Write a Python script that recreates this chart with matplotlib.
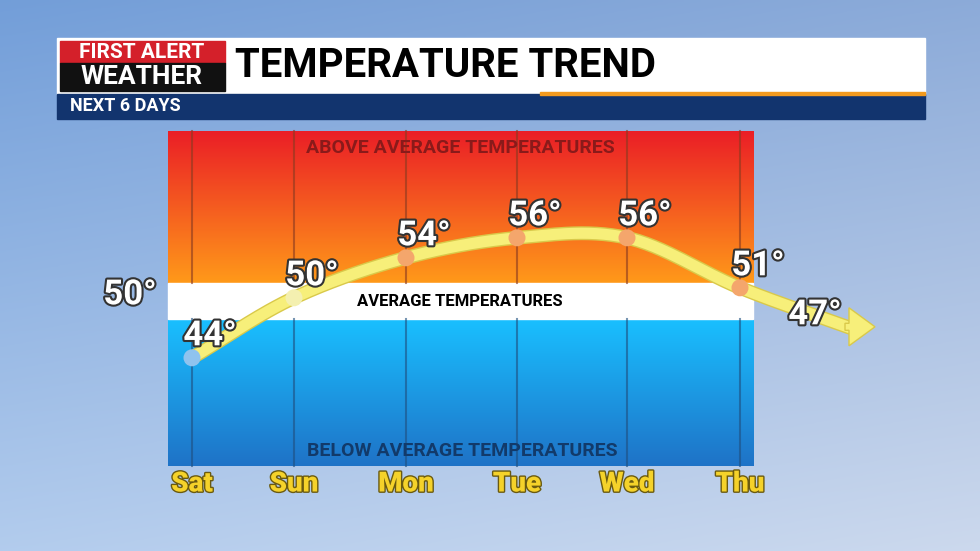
import numpy as np
import matplotlib.pyplot as plt
import matplotlib.patheffects as pe
from matplotlib.patches import Rectangle, FancyArrow

days = ['Sat', 'Sun', 'Mon', 'Tue', 'Wed', 'Thu']
temps = [44, 50, 54, 56, 56, 51]
next_temp = 47
avg_temp = 50
dot_colors = ['#8fc3ee', '#f4f0b0', '#f4a66c', '#f4a66c', '#f4a66c', '#f4a66c']

W, H = 980, 551
day_x = [192, 294, 406, 517, 627, 740]
next_x = 850
px_per_deg = 10.0
ref_t, ref_y = 50.33, 294.5

plt.rcParams['font.family'] = ['Roboto', 'DejaVu Sans']
fig = plt.figure(figsize=(9.8, 5.51), dpi=100)
ax = fig.add_axes([0, 0, 1, 1])
ax.set_xlim(0, W)
ax.set_ylim(H, 0)
ax.axis('off')

# sky background
yy = np.linspace(0, 1, 200)[:, None]
xx = np.linspace(0, 1, 300)[None, :]
sky = np.zeros((200, 300, 3))
sky[..., 0] = 0.45 + 0.25 * yy + 0.1 * xx
sky[..., 1] = 0.62 + 0.18 * yy + 0.05 * xx
sky[..., 2] = 0.85 + 0.08 * yy
ax.imshow(np.clip(sky, 0, 1), extent=[0, W, H, 0], aspect='auto', zorder=0)

# header
ax.add_patch(Rectangle((57, 38), 868, 56, color='white', zorder=2))
ax.add_patch(Rectangle((60, 41), 165, 22, color='#d4202a', zorder=3))
ax.add_patch(Rectangle((60, 63), 165, 28, color='#111111', zorder=3))
ax.text(142, 52, 'FIRST ALERT', color='white', fontsize=15, fontweight='bold',
        ha='center', va='center', zorder=4)
ax.text(142, 77, 'WEATHER', color='white', fontsize=19, fontweight='bold',
        ha='center', va='center', zorder=4)
ax.text(235, 66, 'TEMPERATURE TREND', color='black', fontsize=29, fontweight='bold',
        ha='left', va='center', zorder=4)
ax.add_patch(Rectangle((540, 92), 385, 3, color='#f39a1e', zorder=4))
ax.add_patch(Rectangle((57, 94), 868, 25, color='#12346e', zorder=2))
ax.text(70, 106, 'NEXT 6 DAYS', color='white', fontsize=13, fontweight='bold',
        ha='left', va='center', zorder=4)

# chart panel
top = np.linspace(0, 1, 100)[:, None, None]
warm = (1 - top) * np.array([0.92, 0.12, 0.15]) + top * np.array([1.0, 0.6, 0.1])
ax.imshow(np.repeat(warm, 2, axis=1), extent=[168, 753, 283, 131], aspect='auto', zorder=1)
cold = (1 - top) * np.array([0.1, 0.75, 1.0]) + top * np.array([0.12, 0.45, 0.78])
ax.imshow(np.repeat(cold, 2, axis=1), extent=[168, 753, 466, 319], aspect='auto', zorder=1)
ax.add_patch(Rectangle((168, 283), 585, 36, color='white', zorder=1))
for x in day_x:
    ax.plot([x, x], [131, 283], color='#8a3a20', lw=1.5, alpha=0.6, zorder=1.5)
    ax.plot([x, x], [319, 466], color='#1f4f80', lw=1.5, alpha=0.6, zorder=1.5)
ax.text(460, 148, 'ABOVE AVERAGE TEMPERATURES', color='#8a1a1a', fontsize=14,
        fontweight='bold', ha='center', va='center', zorder=2)
ax.text(460, 301, 'AVERAGE TEMPERATURES', color='black', fontsize=12,
        fontweight='bold', ha='center', va='center', zorder=2)
ax.text(462, 451, 'BELOW AVERAGE TEMPERATURES', color='#123a6a', fontsize=14,
        fontweight='bold', ha='center', va='center', zorder=2)

for x, d in zip(day_x, days):
    ax.text(x, 484, d, color='#f5d22a', fontsize=20, fontweight='black', ha='center',
            va='center', zorder=5,
            path_effects=[pe.withStroke(linewidth=2, foreground='#6a5a10')])

# temperature axes
tx = fig.add_axes([0, 0, 1, 1])
tx.set_xlim(0, W)
tx.set_ylim(ref_t - (H - ref_y) / px_per_deg, ref_t + ref_y / px_per_deg)
tx.axis('off')

outline = [pe.withStroke(linewidth=3, foreground='#333333')]
lab = dict(color='white', fontsize=25, fontweight='bold', ha='center', va='center',
           path_effects=outline, zorder=6)
tx.text(130, avg_temp + 0.3, f'{avg_temp}°', **lab)

# smooth curve (Catmull-Rom through the points)
px = np.array(day_x + [next_x], float)
py = np.array(temps + [next_temp], float)
P = np.column_stack([px, py])
P = np.vstack([P[0] - (P[1] - P[0]), P, P[-1] + (P[-1] - P[-2])])
cx, cy = [], []
for i in range(1, len(P) - 2):
    p0, p1, p2, p3 = P[i - 1], P[i], P[i + 1], P[i + 2]
    t = np.linspace(0, 1, 30)[:, None]
    seg = 0.5 * ((2 * p1) + (-p0 + p2) * t + (2 * p0 - 5 * p1 + 4 * p2 - p3) * t ** 2
                 + (-p0 + 3 * p1 - 3 * p2 + p3) * t ** 3)
    cx.extend(seg[:, 0]); cy.extend(seg[:, 1])
tx.plot(cx, cy, color='#f7ef7a', lw=8, solid_capstyle='round', zorder=3,
        path_effects=[pe.withStroke(linewidth=10, foreground='#d9c94a')])
tx.add_patch(FancyArrow(next_x - 5, next_temp + 0.1, 30, 0.0, width=0.7,
                        head_width=3.8, head_length=26, length_includes_head=True,
                        color='#f7ef7a', ec='#d9c94a', zorder=3))

for x, t, c in zip(day_x, temps, dot_colors):
    tx.scatter(x, t, s=150, color=c, zorder=4, edgecolor='none')
    tx.text(x + 18, t + 2.2, f'{t}°', **lab)
tx.text(next_x - 35, next_temp + 1.3, f'{next_temp}°', **lab)

fig.savefig('out.png', dpi=100)
